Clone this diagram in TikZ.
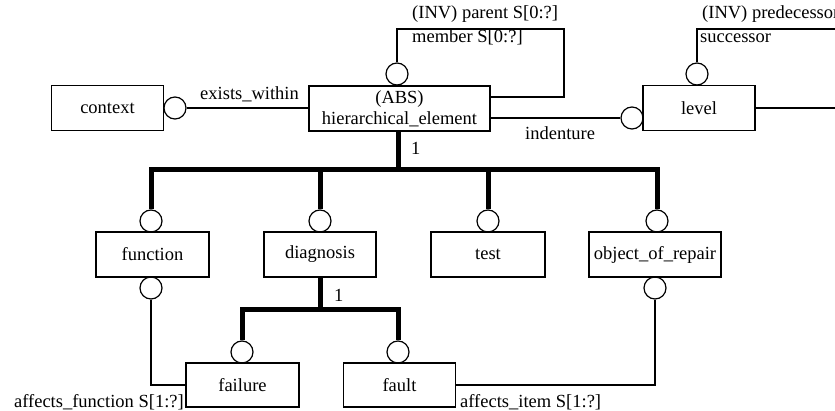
\documentclass[tikz,border=0pt]{standalone}
\usepackage{fontspec}
\setmainfont{Liberation Serif}
\begin{document}
\begin{tikzpicture}[x=1pt,y=-1pt,
  ent/.style={draw, line width=1.2pt, minimum height=45pt, inner sep=0pt,
    font=\fontsize{18.5}{21}\selectfont, align=center},
  ring/.style={draw, circle, line width=1.2pt, minimum size=22pt, inner sep=0pt},
  conn/.style={line width=1.2pt},
  bar/.style={line width=5pt, line join=miter},
  lbl/.style={inner sep=0pt, font=\fontsize{18.5}{21}\selectfont}]
\useasboundingbox (0,0) rectangle (835,411);

% entities
\node[ent, minimum width=112pt] (context) at (107.5,108) {context};
\node[ent, minimum width=181pt] (hier) at (399.5,108.5) {(ABS)\\hierarchical\_element};
\node[ent, minimum width=112pt] (level) at (699,108) {level};
\node[ent, minimum width=113pt] (function) at (152.5,254.5) {function};
\node[ent, minimum width=112pt] (diagnosis) at (320,254.5) {diagnosis};
\node[ent, minimum width=114pt] (test) at (488,254.5) {test};
\node[ent, minimum width=132pt] (obj) at (655,254.5) {object\_of\_repair};
\node[ent, minimum width=113pt, minimum height=44pt] (failure) at (242.5,385) {failure};
\node[ent, minimum width=112pt, minimum height=44pt] (fault) at (399.5,385) {fault};

% rings
\node[ring] (cctx) at (175,108) {};
\node[ring] (chtop) at (397,74) {};
\node[ring] (cind) at (632,118) {};
\node[ring] (cltop) at (697,74) {};
\node[ring] (cfun) at (151,221) {};
\node[ring] (cdia) at (320,221) {};
\node[ring] (ctest) at (488,221) {};
\node[ring] (cobj) at (657,221) {};
\node[ring] (cfunb) at (151,288) {};
\node[ring] (cobjb) at (655,288) {};
\node[ring] (cfail) at (242,352) {};
\node[ring] (cfault) at (398,352) {};

% helper coordinates
\coordinate (hbar) at (398,170);
\coordinate (dbar) at (320,310);
\coordinate (ploopA) at (564,29);
\coordinate (ploopB) at (564,97);
\coordinate (sloop) at (835,29);
\coordinate (edge) at (835,0);

% supertype trees
\draw[bar] (hbar |- hier.south) -- (hbar);
\draw[bar] (cfun.north) |- (hbar) -| (cobj.north);
\draw[bar] (cdia.north) -- (cdia.north |- hbar);
\draw[bar] (ctest.north) -- (ctest.north |- hbar);
\draw[bar] (diagnosis.south) -- (dbar);
\draw[bar] (cfail.north) |- (dbar) -| (cfault.north);

% relationships
\draw[conn] (cctx.east) -- (cctx.east -| hier.west);
\draw[conn] (chtop.north) |- (ploopA) -- (ploopB) -- (ploopB -| hier.east);
\draw[conn] (hier.east |- cind) -- (cind.west);
\draw[conn] (cltop.north) |- (sloop);
\draw[conn] (level.east) -- (level.east -| edge);
\draw[conn] (cfunb.south) |- (failure.west);
\draw[conn] (cobjb.south) |- (fault.east);

% labels
\node[lbl, anchor=base west] (lexists) at (200,100) {exists\_within};
\node[lbl, anchor=base west] (lparent) at (412,19) {(INV) parent S[0:?]};
\node[lbl, anchor=base west] (lmember) at (412,43) {member S[0:?]};
\node[lbl, anchor=base west] (lpred) at (702,19) {(INV) predecessor};
\node[lbl, anchor=base west] (lsucc) at (700,43) {successor};
\node[lbl, anchor=base west] (linden) at (525,140) {indenture};
\node[lbl, anchor=base west] (lone) at (411,155) {1};
\node[lbl, anchor=base west] (ltwo) at (334,302) {1};
\node[lbl, anchor=base east] (laf) at (184,407) {affects\_function S[1:?]};
\node[lbl, anchor=base west] (lai) at (460,407) {affects\_item S[1:?]};
\end{tikzpicture}
\end{document}
